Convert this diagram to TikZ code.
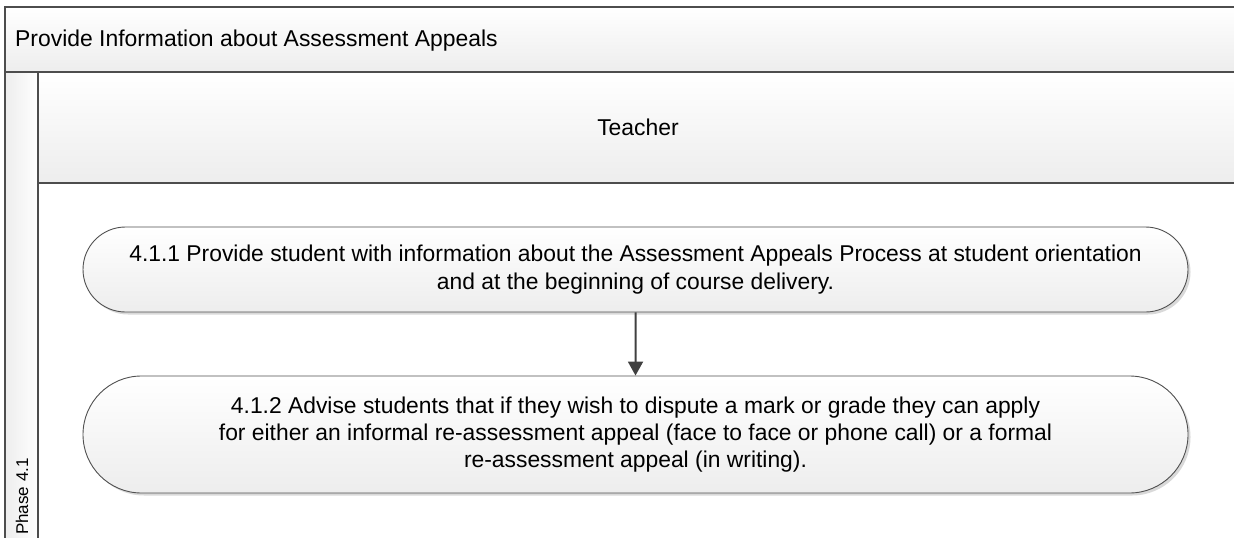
\documentclass[tikz,border=0pt]{standalone}
\usepackage{fontspec}
\setmainfont{Liberation Sans}
\usetikzlibrary{shapes.misc,shadows,arrows.meta}
\definecolor{frameline}{HTML}{4D4D4D}
\definecolor{boxline}{HTML}{505050}
\definecolor{arrowc}{HTML}{404040}
\definecolor{bandbot}{HTML}{EDEDED}
\begin{document}
\begin{tikzpicture}[x=1pt,y=-1pt,
  frame/.style={draw=frameline, line width=2pt},
  stepbox/.style={rounded rectangle, draw=boxline, line width=0.9pt, top color=white, bottom color=bandbot, minimum width=1105pt, align=center, font=\fontsize{22.85}{27.2}\selectfont, inner sep=0pt, drop shadow={shadow xshift=2.5pt, shadow yshift=-2.5pt, fill=gray!50, opacity=0.6}},
  flow/.style={draw=arrowc, line width=2pt, -{Triangle[width=15pt,length=14pt]}},
  lbl/.style={font=\fontsize{22.9}{27}\selectfont, inner sep=0pt}
]
\useasboundingbox (0,0) rectangle (1234,538);
\shade[top color=white,bottom color=bandbot] (5,7) rectangle (1240,72);
\shade[left color=bandbot, right color=white] (5,72) rectangle (38,545);
\shade[top color=white,bottom color=bandbot] (38,72) rectangle (1240,183);
\draw[frame] (1240,7) -- (5,7) -- (5,545);
\draw[frame] (5,72) -- (1240,72);
\draw[frame] (38,72) -- (38,545);
\draw[frame] (38,183) -- (1240,183);

\node[lbl, anchor=base west] (title) at (15,46) {Provide Information about Assessment Appeals};
\node[lbl, anchor=base] (lane) at (638,135) {Teacher};
\node[font=\fontsize{17}{20}\selectfont, rotate=90, anchor=base west, inner sep=0pt] (phase) at (28,535) {Phase 4.1};

\node[stepbox, minimum height=85pt] (b1) at (635.5,269.5) {4.1.1 Provide student with information about the Assessment Appeals Process at student orientation\\and at the beginning of course delivery.};
\node[stepbox, minimum height=117pt] (b2) at (635.5,434.5) {4.1.2 Advise students that if they wish to dispute a mark or grade they can apply\\for either an informal re-assessment appeal (face to face or phone call) or a formal\\re-assessment appeal (in writing).};
\draw[flow] (b1) -- (b2);
\end{tikzpicture}
\end{document}
